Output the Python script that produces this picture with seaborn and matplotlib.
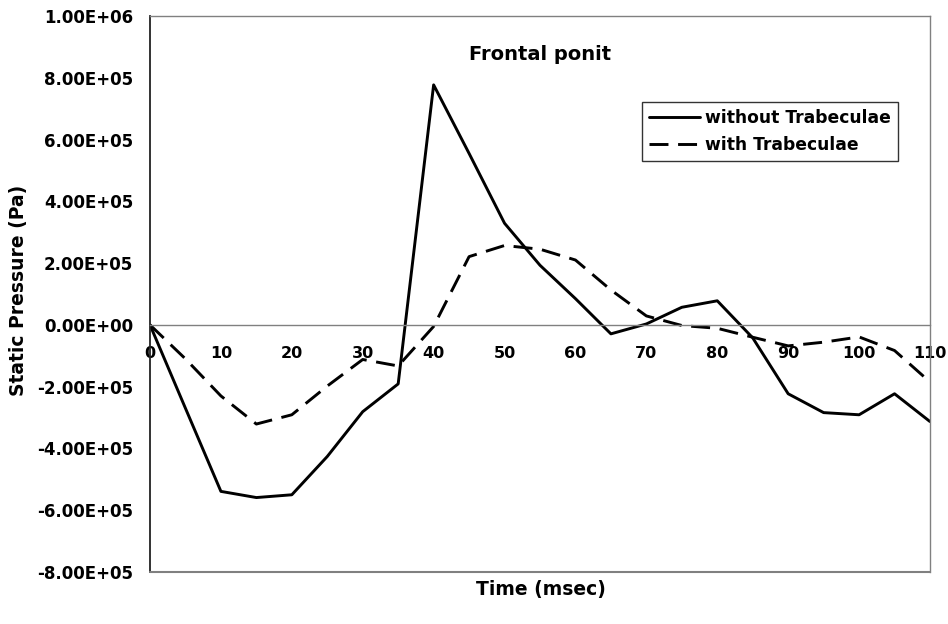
import matplotlib
matplotlib.use("Agg")
import matplotlib.pyplot as plt
import seaborn as sns
import pandas as pd
from matplotlib.lines import Line2D

time_ms = [0, 5, 10, 15, 20, 25, 30, 35, 40, 45, 50, 55, 60, 65, 70, 75, 80, 85, 90, 95, 100, 105, 110]
without_trab = [0, -2.7e5, -5.39e5, -5.59e5, -5.50e5, -4.26e5, -2.81e5, -1.91e5, 7.77e5, 5.55e5,
                3.29e5, 1.93e5, 8.5e4, -2.9e4, 3e3, 5.7e4, 7.8e4, -4.2e4, -2.23e5, -2.84e5,
                -2.91e5, -2.23e5, -3.13e5]
with_trab = [0, -1.1e5, -2.3e5, -3.21e5, -2.91e5, -1.98e5, -1.12e5, -1.33e5, -5e3, 2.21e5,
             2.57e5, 2.45e5, 2.1e5, 1.13e5, 2.9e4, -2e3, -1.1e4, -4e4, -6.8e4, -5.6e4,
             -3.9e4, -8.3e4, -1.85e5]
series_names = ["without Trabeculae", "with Trabeculae"]
y_ticks = [-8e5, -6e5, -4e5, -2e5, 0, 2e5, 4e5, 6e5, 8e5, 1e6]
x_ticks = list(range(0, 111, 10))

df = pd.DataFrame({
    "Time": time_ms * 2,
    "Pressure": without_trab + with_trab,
    "Series": [series_names[0]] * len(time_ms) + [series_names[1]] * len(time_ms),
})

sns.set_style("white")
plt.rcParams["font.family"] = ["DejaVu Sans"]
plt.rcParams["font.weight"] = "bold"
plt.rcParams["text.color"] = "black"
plt.rcParams["xtick.color"] = "black"
plt.rcParams["ytick.color"] = "black"

fig = plt.figure(figsize=(9.48, 6.24), dpi=100)
ax = fig.add_axes([150 / 948, 1 - 572 / 624, 780 / 948, 556 / 624])

sns.lineplot(data=df, x="Time", y="Pressure", style="Series", color="black",
             dashes={series_names[0]: "", series_names[1]: (6.5, 3.3)},
             linewidth=2.1, ax=ax, legend=False, sort=False)

ax.set_xlim(0, 110)
ax.set_ylim(-8e5, 1e6)
ax.set_yticks(y_ticks)
ax.set_yticklabels([f"{v:.2E}" for v in y_ticks])
ax.set_xticks(x_ticks)
ax.set_xticklabels([str(v) for v in x_ticks])
for lbl in ax.get_xticklabels() + ax.get_yticklabels():
    lbl.set_fontweight("bold")
    lbl.set_color("black")

gray = "#808080"
ax.spines["bottom"].set_position(("data", 0))
ax.spines["bottom"].set_color(gray)
ax.spines["bottom"].set_linewidth(1.0)
ax.spines["top"].set_color(gray)
ax.spines["right"].set_color(gray)
ax.spines["top"].set_linewidth(1.0)
ax.spines["right"].set_linewidth(1.0)
ax.spines["left"].set_color("#222222")
ax.spines["left"].set_linewidth(1.3)
ax.axhline(-8e5, color=gray, linewidth=1.5, clip_on=False, zorder=3)

ax.tick_params(axis="x", direction="out", length=5, width=1, color=gray, pad=10,
               labelsize=11.5, labelcolor="black")
ax.tick_params(axis="y", direction="out", length=5, width=1, color="#222222", pad=7,
               labelsize=12, labelcolor="black")

ax.set_xlabel("")
ax.set_ylabel("")
fig.text(19 / 948, 1 - 290 / 624, "Static Pressure (Pa)", rotation=90, ha="center",
         va="center", fontsize=13.5, fontweight="bold", color="black")
fig.text(541 / 948, 1 - 589 / 624, "Time (msec)", ha="center", va="center",
         fontsize=13.5, fontweight="bold", color="black")
fig.text(540 / 948, 1 - 54 / 624, "Frontal ponit", ha="center", va="center",
         fontsize=14, fontweight="bold", color="black")

handles = [Line2D([], [], color="black", linewidth=2.1),
           Line2D([], [], color="black", linewidth=2.1, dashes=(6.5, 3.3))]
leg = ax.legend(handles, series_names, loc="upper left",
                bbox_to_anchor=(642 / 948, 1 - 102 / 624), bbox_transform=fig.transFigure,
                frameon=True, fancybox=False, shadow=False, framealpha=1,
                prop={"size": 12.3, "weight": "bold"}, handlelength=3.0,
                handletextpad=0.3, labelspacing=0.55, borderpad=0.4, borderaxespad=0)
for t in leg.get_texts():
    t.set_color("black")
leg.get_frame().set_edgecolor("#333333")
leg.get_frame().set_linewidth(1.0)

fig.savefig("out.png", dpi=100, facecolor="white")
